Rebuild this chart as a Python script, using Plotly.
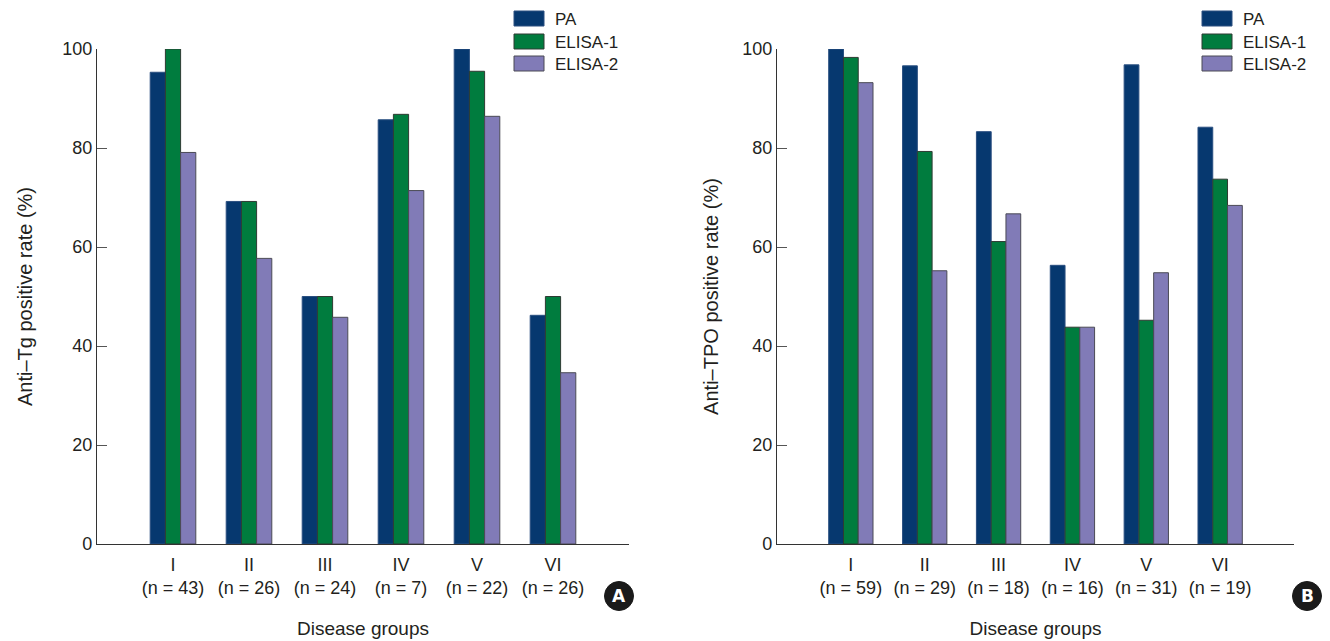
import plotly.graph_objects as go

# ---------------- data ----------------
groups = ["I", "II", "III", "IV", "V", "VI"]
n_tg = [43, 26, 24, 7, 22, 26]
n_tpo = [59, 29, 18, 16, 31, 19]

series_names = ["PA", "ELISA-1", "ELISA-2"]
series_colors = ["#06386f", "#007c3e", "#817bb7"]
series_lines = ["#2a4f80", "#2e3b33", "#4a4a55"]

tg_pa = [95.3, 69.2, 50.0, 85.7, 100.0, 46.2]
tg_e1 = [100.0, 69.2, 50.0, 86.8, 95.5, 50.0]
tg_e2 = [79.1, 57.7, 45.8, 71.4, 86.4, 34.6]

tpo_pa = [100.0, 96.6, 83.3, 56.3, 96.8, 84.2]
tpo_e1 = [98.3, 79.3, 61.1, 43.8, 45.2, 73.7]
tpo_e2 = [93.2, 55.2, 66.7, 43.8, 54.8, 68.4]

y_ticks = [0, 20, 40, 60, 80, 100]

# ---------------- layout geometry ----------------
# the page body adds an 8 px offset, so the figure is drawn 8 px smaller
OFF = 8
W, H = 1330 - OFF, 641 - OFF
ML, MR, MT, MB = 97 - OFF, 36, 49 - OFF, 97
PW = W - ML - MR
PH = H - MT - MB

def px(x):
    # x given in screen pixels
    return (x - OFF - ML) / PW

def py(y):
    return (H - MB - (y - OFF)) / PH

FONT = "Liberation Sans, Arial, sans-serif"
TXT = "#231f20"

labels_tg = [f"{g}<br>(n = {n})" for g, n in zip(groups, n_tg)]
labels_tpo = [f"{g}<br>(n = {n})" for g, n in zip(groups, n_tpo)]

fig = go.Figure()

for vals, name, col, lc in zip([tg_pa, tg_e1, tg_e2], series_names, series_colors, series_lines):
    fig.add_trace(go.Bar(x=labels_tg, y=vals, name=name, marker=dict(color=col, line=dict(color=lc, width=1)),
                         xaxis="x", yaxis="y", showlegend=False))
for vals, name, col, lc in zip([tpo_pa, tpo_e1, tpo_e2], series_names, series_colors, series_lines):
    fig.add_trace(go.Bar(x=labels_tpo, y=vals, name=name, marker=dict(color=col, line=dict(color=lc, width=1)),
                         xaxis="x2", yaxis="y2", showlegend=False))

xa_common = dict(range=[-1, 6], showline=True, linecolor="#333333", linewidth=1.3, ticks="",
                 showgrid=False, zeroline=False, tickfont=dict(family=FONT, size=18, color=TXT),
                 ticklabelstandoff=4,
                 title_font=dict(family=FONT, size=19, color=TXT), title_standoff=24, fixedrange=True)
ya_common = dict(range=[0, 100], tickvals=y_ticks, showline=True, linecolor="#333333", linewidth=1.3,
                 ticks="inside", ticklen=10, tickcolor="#555555", tickwidth=1, showgrid=False, zeroline=False,
                 tickfont=dict(family=FONT, size=18, color=TXT), ticklabelstandoff=0,
                 title_font=dict(family=FONT, size=20, color=TXT))

fig.update_layout(
    width=W, height=H,
    margin=dict(l=ML, r=MR, t=MT, b=MB, autoexpand=False),
    paper_bgcolor="white", plot_bgcolor="white",
    barmode="group", bargap=0.4, bargroupgap=0,
    xaxis=dict(domain=[0, px(629)], anchor="y", title_text="Disease groups", **xa_common),
    xaxis2=dict(domain=[px(777), 1], anchor="y2", title_text="Disease groups", **xa_common),
    yaxis=dict(domain=[0, 1], anchor="x", title_text="Anti–Tg positive rate (%)", title_standoff=24, **ya_common),
    yaxis2=dict(domain=[0, 1], anchor="x2", title_text="Anti–TPO positive rate (%)", title_standoff=18, **ya_common),
)

# manual legends (swatch + label) for both panels
shapes = []
annotations = []
row_tops = [11, 34, 56]
for sw_left, txt_left in [(514, 554), (1202, 1242)]:
    for name, col, lc, top in zip(series_names, series_colors, series_lines, row_tops):
        shapes.append(dict(type="rect", xref="paper", yref="paper",
                           x0=px(sw_left), x1=px(sw_left + 30), y0=py(top + 15), y1=py(top),
                           fillcolor=col, line=dict(color=lc, width=1)))
        annotations.append(dict(xref="paper", yref="paper", x=px(txt_left), y=py(top + 8.5),
                                xanchor="left", yanchor="middle", showarrow=False, text=name,
                                font=dict(family=FONT, size=17, color=TXT), borderpad=0))

# panel letters
for letter, cx, cy in [("A", 619, 596), ("B", 1307, 596)]:
    r = 14.5
    shapes.append(dict(type="circle", xref="paper", yref="paper",
                       x0=px(cx - r), x1=px(cx + r), y0=py(cy + r), y1=py(cy - r),
                       fillcolor="#1a1a1a", line=dict(color="#1a1a1a", width=1)))
    annotations.append(dict(xref="paper", yref="paper", x=px(cx), y=py(cy), xanchor="center", yanchor="middle",
                            showarrow=False, text=f"<b>{letter}</b>",
                            font=dict(family="DejaVu Sans, Liberation Sans, sans-serif", size=17, color="white")))

fig.update_layout(shapes=shapes, annotations=annotations)

fig.write_html("out.html", config={"displayModeBar": False})
